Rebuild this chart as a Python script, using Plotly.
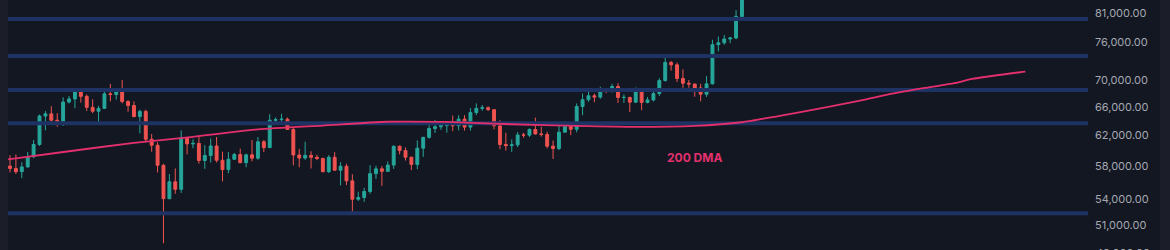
import numpy as np
import pandas as pd
import plotly.graph_objects as go

# ---- data (daily BTC candles) ----
dates = pd.date_range("2024-07-10", "2024-11-11", freq="D")

opens = [
    58000, 57700, 57300, 57900, 59200, 60800, 64700, 65000, 64100, 63970,
    66700, 67150, 68160, 67530, 65930, 65370, 65780, 67900, 67800, 68250,
    66780, 66190, 64620, 65350, 61500, 60700, 58100, 54020, 56040, 55130,
    61700, 60880, 60950, 58710, 59350, 60600, 58740, 57560, 58870, 59480,
    58430, 59440, 59010, 61160, 60380, 64100, 64180, 64250, 62830, 59420,
    59030, 59370, 59120, 58970, 57300, 59130, 57480, 57970, 56160, 53950,
    54160, 54870, 57050, 57650, 57340, 58130, 60570, 60000, 59130, 58210,
    60310, 61760, 62950, 63200, 63350, 63580, 63340, 64260, 63150, 65180,
    65790, 65880, 65600, 63330, 60800, 60650, 60750, 62080, 62050, 62820,
    62220, 62130, 60580, 60270, 62450, 63200, 62850, 66050, 67040, 67620,
    67420, 68380, 68360, 69000, 67370, 67380, 66680, 68170, 66640, 67010,
    67940, 69910, 72720, 72340, 70220, 69490, 69380, 68780, 67850, 69400,
    75600, 75900, 76540, 76700, 80400,
]
highs = [
    59400, 59500, 58500, 59800, 61400, 64900, 65400, 66100, 65100, 67400,
    67600, 68400, 68450, 67800, 67100, 66150, 68200, 69400, 68300, 70000,
    66980, 66800, 65600, 65600, 62200, 61100, 58300, 57000, 57700, 62700,
    61800, 61500, 61850, 60700, 61600, 61800, 59850, 59800, 59700, 60250,
    59600, 61400, 61800, 61400, 64950, 64500, 65000, 64480, 63200, 60200,
    61170, 59900, 59450, 59060, 59400, 59800, 58500, 58300, 56980, 54850,
    55300, 58100, 58050, 57990, 58600, 60650, 60660, 60400, 59200, 61350,
    61790, 63850, 64130, 63570, 64000, 64750, 64800, 64820, 65840, 66500,
    66260, 66070, 65600, 64130, 62390, 61480, 62470, 62370, 62980, 64470,
    63190, 62520, 61320, 63400, 63480, 63280, 66500, 67950, 68420, 67940,
    68970, 68690, 69400, 69500, 67830, 67470, 68850, 68750, 67440, 68310,
    70270, 73620, 72960, 72700, 71630, 70000, 69400, 69400, 70580, 76400,
    76950, 77200, 76880, 81500, 89000,
]
lows = [
    57200, 57000, 56500, 57800, 59000, 60600, 62700, 63900, 63200, 63300,
    66500, 65800, 66600, 65400, 65100, 63450, 65740, 66800, 67050, 66500,
    65300, 64500, 62300, 61100, 59850, 57200, 49000, 53950, 54600, 54700,
    59500, 60300, 58300, 57650, 58450, 58450, 56100, 57100, 58800, 58400,
    57850, 58600, 58800, 59800, 60350, 63600, 63800, 62800, 58100, 57850,
    58800, 57700, 58750, 57200, 57120, 57420, 55600, 55650, 52550, 53750,
    53650, 54600, 56400, 55550, 57320, 57650, 59500, 58700, 57500, 57610,
    59170, 61560, 62350, 62770, 62380, 62600, 62700, 62670, 62670, 64830,
    65450, 65420, 62850, 60170, 59990, 59830, 60460, 61690, 61800, 62130,
    61850, 60300, 58900, 60050, 62430, 62050, 62440, 64800, 66750, 66650,
    67170, 68000, 68100, 66560, 66570, 65260, 66560, 65520, 66510, 66780,
    67580, 69730, 71440, 69680, 68780, 68800, 67480, 66800, 67450, 69300,
    74500, 75580, 75850, 76500, 80200,
]
closes = [
    57700, 57300, 57900, 59200, 60800, 64700, 65000, 64100, 63970, 66700,
    67150, 68160, 67530, 65930, 65370, 65780, 67900, 67800, 68250, 66780,
    66190, 64620, 65350, 61500, 60700, 58100, 54020, 56040, 55130, 61700,
    60880, 60950, 58710, 59350, 60600, 58740, 57560, 58870, 59480, 58430,
    59440, 59010, 61160, 60380, 64100, 64180, 64250, 62830, 59420, 59030,
    59370, 59120, 58970, 57300, 59130, 57480, 57970, 56160, 53950, 54160,
    54870, 57050, 57650, 57340, 58130, 60570, 60000, 59130, 58210, 60310,
    61760, 62950, 63200, 63350, 63580, 63340, 64260, 63150, 65180, 65790,
    65880, 65600, 63330, 60800, 60650, 60750, 62080, 62050, 62820, 62220,
    62130, 60580, 60270, 62450, 63200, 62850, 66050, 67040, 67620, 67420,
    68380, 68360, 69000, 67370, 67380, 66680, 68170, 66640, 67010, 67940,
    69910, 72720, 72340, 70220, 69490, 69380, 68780, 67850, 69400, 75600,
    75900, 76540, 76700, 80400, 88700,
]

# 200-day moving average
dma_dates = [
    "2024-07-09 16:00", "2024-07-20", "2024-07-31", "2024-08-10", "2024-08-21",
    "2024-09-01", "2024-09-12", "2024-09-22", "2024-10-03", "2024-10-14",
    "2024-10-24", "2024-11-03", "2024-11-11", "2024-11-20", "2024-12-01",
    "2024-12-06", "2024-12-12", "2024-12-17", "2024-12-20", "2024-12-29",
]
dma_values = [
    58850, 59910, 61010, 61830, 62830,
    63360, 63890, 63860, 63540, 63310,
    63170, 63310, 63820, 65090, 66900,
    67850, 68780, 69500, 70150, 71280,
]

# horizontal support / resistance levels
levels = [79960, 73750, 68480, 63670, 52340]

# y-axis tick labels
tick_values = [81000, 76000, 70000, 66000, 62000, 58000, 54000, 51000]
tick_labels = ["81,000.00", "76,000.00", "70,000.00", "66,000.00",
               "62,000.00", "58,000.00", "54,000.00", "51,000.00"]
extra_tick = (48000, "48,000.00")

label_text = "200 DMA"
label_pos = ("2024-11-03", 59160)

# ---- styling ----
BG = "#131722"
STRIP = "#1b1e28"
GREEN = "#26a69a"
RED = "#ef5350"
LEVEL = "#1f3264"
PINK = "#e3306d"
TXT = "#a5a8b1"
FONT = "Inter, Roboto, sans-serif"

x_range = ["2024-07-09 15:52", "2025-01-08 14:53"]
y_range = [4.68391, 4.92081]

fig = go.Figure()

for lv in levels:
    fig.add_trace(go.Scatter(
        x=x_range, y=[lv, lv], mode="lines",
        line=dict(color=LEVEL, width=4), hoverinfo="skip", showlegend=False,
    ))

fig.add_trace(go.Scatter(
    x=dma_dates, y=dma_values, mode="lines",
    line=dict(color=PINK, width=1.8, shape="spline", smoothing=0.6),
    hoverinfo="skip", showlegend=False,
))

fig.add_trace(go.Candlestick(
    x=dates, open=opens, high=highs, low=lows, close=closes,
    increasing=dict(line=dict(color=GREEN, width=1), fillcolor=GREEN),
    decreasing=dict(line=dict(color=RED, width=1), fillcolor=RED),
    whiskerwidth=0, showlegend=False,
))

fig.add_annotation(
    x=label_pos[0], y=np.log10(label_pos[1]), xref="x", yref="y",
    text="<b>" + label_text + "</b>", showarrow=False,
    font=dict(family=FONT, size=12, color=PINK),
)

# partially visible lowest tick label (just below the plotting area)
extra_paper_y = (np.log10(extra_tick[0]) - y_range[0]) / (y_range[1] - y_range[0])
fig.add_annotation(
    x=1, y=extra_paper_y, xref="paper", yref="paper",
    xanchor="left", yanchor="middle", xshift=6, text=extra_tick[1],
    showarrow=False, font=dict(family=FONT, size=11, color=TXT),
)

# side strips (chart chrome)
fig.add_shape(type="rect", xref="paper", yref="paper",
              x0=-8 / 1080, x1=0, y0=0, y1=1,
              fillcolor=STRIP, line=dict(width=0), layer="below")
fig.add_shape(type="rect", xref="paper", yref="paper",
              x0=1152 / 1080, x1=1162 / 1080, y0=0, y1=1,
              fillcolor=STRIP, line=dict(width=0), layer="below")

fig.update_layout(
    width=1170, height=250,
    margin=dict(l=8, r=82, t=0, b=0),
    paper_bgcolor=BG, plot_bgcolor=BG,
    showlegend=False,
    xaxis=dict(type="date", range=x_range, visible=False,
               rangeslider=dict(visible=False), fixedrange=True),
    yaxis=dict(type="log", range=y_range, side="right",
               tickvals=tick_values, ticktext=tick_labels,
               showgrid=False, zeroline=False, showline=False, ticks="",
               ticklabelstandoff=6,
               tickfont=dict(family=FONT, size=11, color=TXT)),
)

fig.write_html("out.html")
